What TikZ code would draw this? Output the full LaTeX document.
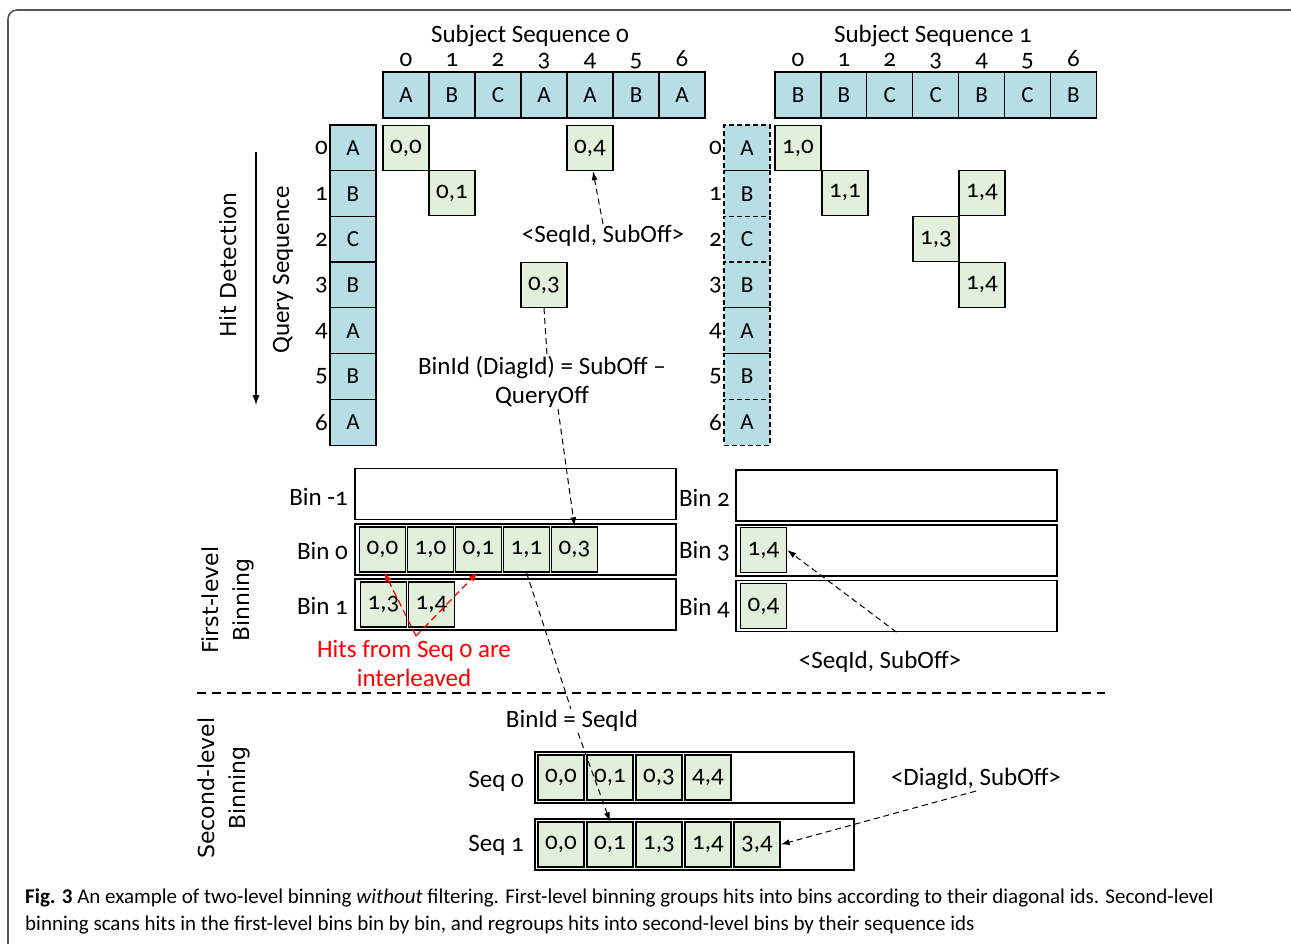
\documentclass[tikz,border=0pt]{standalone}
\usepackage{fontspec}
\setmainfont{Carlito}[Numbers=OldStyle]
\newfontfamily\verd{DejaVu Sans}
\usetikzlibrary{arrows.meta}
\definecolor{cellblue}{RGB}{183,222,228}
\definecolor{hitgreen}{RGB}{226,239,218}
\definecolor{framegray}{RGB}{85,85,85}
\begin{document}
\begin{tikzpicture}[x=1pt,y=-1pt,
  every node/.style={font=\fontsize{25}{29}\selectfont, inner sep=1pt},
  cellbox/.style={draw, fill=cellblue, line width=1.3pt, minimum width=46pt, minimum height=46pt, inner sep=0pt, font=\fontsize{23}{26}\selectfont},
  qdash/.style={cellbox, dash pattern=on 5pt off 3pt},
  hitbox/.style={draw, fill=hitgreen, line width=1.3pt, minimum width=46pt, minimum height=45pt, inner sep=0pt, font=\fontsize{25}{28}\selectfont},
  binbox/.style={draw, line width=1.3pt, minimum width=321pt, minimum height=51pt, inner sep=0pt},
  seqbox/.style={draw, line width=1.3pt, minimum width=319pt, minimum height=51pt, inner sep=0pt},
  idx/.style={inner sep=0pt, anchor=base},
  qidx/.style={inner sep=0pt, anchor=east},
  conn/.style={line width=1pt, dash pattern=on 6pt off 4pt, -{Latex[length=9pt,width=6pt]}},
  plain/.style={line width=1pt, dash pattern=on 6pt off 4pt},
  redconn/.style={red, line width=1.2pt, dash pattern=on 7pt off 4pt, -{Latex[length=9pt,width=7pt]}},
  side/.style={font=\verd\fontsize{22}{31}\selectfont, rotate=90, align=center}
]
\useasboundingbox (0,0) rectangle (1291,943);
% frame
\draw[framegray, line width=1.6pt, rounded corners=9pt] (8,950) -- (8,10) -- (1300,10);

% Subject sequence 0
\node[anchor=base, inner sep=0pt] (t0) at (530,42) {Subject Sequence 0};
\foreach \l [count=\i from 0] in {A,B,C,A,A,B,A} {
  \node[cellbox] (sa\i) at ({406+46*\i},95) {\l};
  \node[idx] (sai\i) at ({406+46*\i},66) {\i};
}
% Subject sequence 1
\node[anchor=base, inner sep=0pt] (t1) at (933,42) {Subject Sequence 1};
\foreach \l [count=\i from 0] in {B,B,C,C,B,C,B} {
  \node[cellbox] (sb\i) at ({798+45.9*\i},95) {\l};
  \node[idx] (sbi\i) at ({798+45.9*\i},66) {\i};
}
% Query sequences
\foreach \l [count=\j from 0] in {A,B,C,B,A,B,A} {
  \node[cellbox] (qa\j) at (353,{148+45.7*\j}) {\l};
  \node[qidx] (qai\j) at (328,{148+45.7*\j}) {\j};
  \node[qdash] (qb\j) at (747,{148+45.7*\j}) {\l};
  \node[qidx] (qbi\j) at (722,{148+45.7*\j}) {\j};
}
% hits sequence 0
\node[hitbox] (h00) at (406,148) {0,0};
\node[hitbox] (h01) at (452,193) {0,1};
\node[hitbox] (h04) at (590,148) {0,4};
\node[hitbox] (h03) at (544,285) {0,3};
% hits sequence 1
\node[hitbox] (h10) at (798,148) {1,0};
\node[hitbox] (h11) at (845,193) {1,1};
\node[hitbox] (h14a) at (982,193) {1,4};
\node[hitbox] (h13) at (936,239) {1,3};
\node[hitbox] (h14b) at (982,285) {1,4};

% side labels
\node[side] (hd) at (228,265) {Hit Detection};
\node[rotate=90] (qs) at (283,270) {Query Sequence};
\coordinate (ha) at (256,152);
\coordinate (hb) at (256,405);
\draw[line width=1.1pt, -{Latex[length=10pt,width=7pt]}] (ha) -- (hb);

% labels hit detection
\node (lsq1) at (603,236) {<SeqId, SubOff>};
\node[align=center] (ldiag) at (542,382) {BinId (DiagId) = SubOff --\\QueryOff};

% first-level bins left
\node[binbox] (bm1) at (515.5,494) {};
\node[binbox] (b0) at (515.5,549.5) {};
\node[binbox] (b1) at (515.5,604.5) {};
\node[anchor=east] (lbm1) at (349,497) {Bin -1};
\node[anchor=east] (lb0) at (349,551) {Bin 0};
\node[anchor=east] (lb1) at (349,606) {Bin 1};
\foreach \t [count=\i from 0] in {{0,0},{1,0},{0,1},{1,1},{0,3}} {
  \node[hitbox] (b0i\i) at ({382.5+48*\i},549.5) {\t};
}
\foreach \t [count=\i from 0] in {{1,3},{1,4}} {
  \node[hitbox] (b1i\i) at ({383.5+48*\i},604.5) {\t};
}
% first-level bins right
\node[binbox] (b2) at (896.5,495.5) {};
\node[binbox] (b3) at (896.5,550.5) {};
\node[binbox] (b4) at (896.5,606) {};
\node[anchor=east] (lb2) at (731,498) {Bin 2};
\node[anchor=east] (lb3) at (731,551) {Bin 3};
\node[anchor=east] (lb4) at (731,608) {Bin 4};
\node[hitbox] (b3i0) at (763.5,550) {1,4};
\node[hitbox] (b4i0) at (763.5,606) {0,4};
\node (lsq2) at (880,662) {<SeqId, SubOff>};

\node[side] (flb) at (228,600) {First-level\\Binning};
\node[red, align=center] (lred) at (414,663) {Hits from Seq 0 are\\interleaved};
\coordinate (rc) at (416,636);

% separator
\coordinate (sepL) at (197,693);
\coordinate (sepR) at (1105,693);
\draw[line width=1.4pt, dash pattern=on 9pt off 6pt] (sepL) -- (sepR);

% second-level
\node[side] (slb) at (224,788) {Second-level\\Binning};
\node (lbin) at (572,721) {BinId = SeqId};
\node[seqbox] (sq0) at (694.5,777.5) {};
\node[seqbox] (sq1) at (694.5,844.5) {};
\node[anchor=east] (ls0) at (525,781) {Seq 0};
\node[anchor=east] (ls1) at (525,845) {Seq 1};
\foreach \t [count=\i from 0] in {{0,0},{0,1},{0,3},{4,4}} {
  \node[hitbox] (s0i\i) at ({561+49*\i},777.5) {\t};
}
\foreach \t [count=\i from 0] in {{0,0},{0,1},{1,3},{1,4},{3,4}} {
  \node[hitbox] (s1i\i) at ({561+49*\i},844.5) {\t};
}
\node (ldg) at (976,779) {<DiagId, SubOff>};

% connectors
\draw[conn] (lsq1.north) -- ([xshift=3pt]h04.south);
\draw[plain] (h03.south) -- ([xshift=5pt]ldiag.north);
\draw[conn] ([xshift=16pt]ldiag.south) -- (b0i4.north);
\draw[conn] (b4.south) -- (b3i0.east);
\draw[redconn] (rc) -- ([xshift=2pt]b0i0.south);
\draw[redconn] (rc) -- ([xshift=-1pt]b0i2.south);
\draw[plain] (b0i3.south) -- ([xshift=-1pt]lbin.north);
\draw[conn] ([xshift=6pt]lbin.south) -- (s1i1.north);
\draw[conn] (ldg.south) -- (s1i4.east);

% caption
\node[anchor=base west, inner sep=0pt, font=\fontsize{21}{25}\selectfont\addfontfeatures{Numbers=Lining}] (cap1) at (25,903) {\textbf{Fig. 3} An example of two-level binning \textit{without} filtering. First-level binning groups hits into bins according to their diagonal ids. Second-level};
\node[anchor=base west, inner sep=0pt, font=\fontsize{21}{25}\selectfont] (cap2) at (25,930) {binning scans hits in the first-level bins bin by bin, and regroups hits into second-level bins by their sequence ids};
\end{tikzpicture}
\end{document}
